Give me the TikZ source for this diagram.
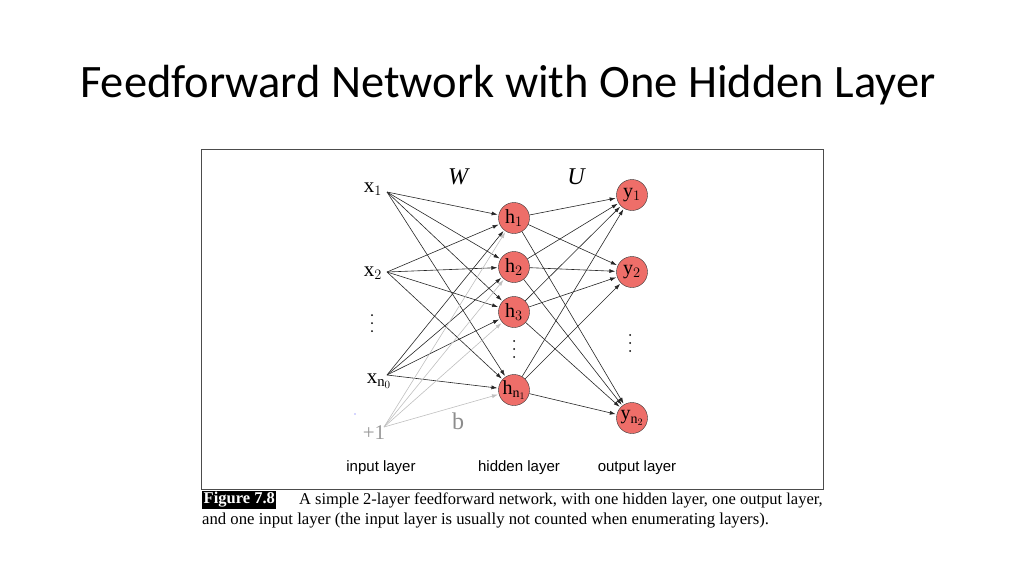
\documentclass[tikz,border=0pt]{standalone}
\usepackage{fontspec}
\setmainfont{Liberation Serif}
\newfontfamily\titlefont{Carlito}
\newfontfamily\labfont{Liberation Sans}
\begin{document}
\begin{tikzpicture}[x=1pt,y=-1pt,
  neuron/.style={circle,draw=black!80,fill={rgb,255:red,238;green,110;blue,105},minimum size=31pt,inner sep=0pt,font=\fontsize{20}{20}\selectfont},
  lbl/.style={font=\fontsize{21}{21}\selectfont,inner sep=1pt},
  dots/.style={circle,fill=black,inner sep=0pt,minimum size=2pt},
  wire/.style={-{Latex[length=6pt,width=4pt]},black!85,line width=0.6pt,shorten >=1pt},
  bwire/.style={-{Latex[length=6pt,width=4pt]},black!25,line width=0.6pt,shorten >=1pt},
  layer/.style={font=\labfont\fontsize{15}{15}\selectfont}]
\usetikzlibrary{arrows.meta}
\useasboundingbox (0,0) rectangle (1024,576);
\node[font=\titlefont\fontsize{46.5}{46.5}\selectfont,anchor=west,inner sep=0pt] (title) at (80,85) {Feedforward Network with One Hidden Layer};
\node[draw=black!70,line width=0.7pt,minimum width=622pt,minimum height=340pt,anchor=north west,inner sep=0pt] (frame) at (201,149) {};
% inputs
\node[lbl] (x1) at (373,189) {x$_1$};
\node[lbl] (x2) at (373,273) {x$_2$};
\foreach \i/\yy in {1/315,2/323,3/331} \node[dots] (xd\i) at (372,\yy) {};
\node[lbl] (xn) at (379,381) {x$_{\mathrm{n}_0}$};
\node[lbl,text=black!40] (one) at (374,433) {+1};
\node[circle,fill=blue!70,inner sep=0.5pt] (dot) at (355,414) {};
\coordinate (s1) at (387,192);
\coordinate (s2) at (387,272);
\coordinate (sn) at (387,375);
\coordinate (sb) at (384,427);
% hidden
\node[neuron] (h1) at (514,218) {h$_1$};
\node[neuron] (h2) at (514,267) {h$_2$};
\node[neuron] (h3) at (514,312) {h$_3$};
\foreach \i/\yy in {1/341,2/349,3/357} \node[dots] (hd\i) at (514,\yy) {};
\node[neuron] (hn) at (514,390) {h$_{\mathrm{n}_1}$};
% outputs
\node[neuron] (y1) at (632,195) {y$_1$};
\node[neuron] (y2) at (632,272) {y$_2$};
\foreach \i/\yy in {1/335,2/343,3/351} \node[dots] (yd\i) at (630,\yy) {};
\node[neuron] (yn) at (632,418) {y$_{\mathrm{n}_2}$};
% labels
\node[lbl,font=\itshape\fontsize{24}{24}\selectfont] (W) at (458,177) {W};
\node[lbl,font=\itshape\fontsize{24}{24}\selectfont] (U) at (576,177) {U};
\node[lbl,text=black!45,font=\fontsize{24}{24}\selectfont] (b) at (458,421) {b};
\foreach \s in {s1,s2,sn} \foreach \h in {h1,h2,h3,hn} \draw[wire] (\s) -- (\h);
\foreach \h in {h1,h2,h3,hn} \draw[bwire] (sb) -- (\h);
\foreach \h in {h1,h2,h3,hn} \foreach \y in {y1,y2,yn} \draw[wire] (\h) -- (\y);
\node[layer] (il) at (381,468) {input layer};
\node[layer] (hl) at (519,468) {hidden layer};
\node[layer] (ol) at (637,468) {output layer};
% caption
\node[fill=black,text=white,font=\bfseries\fontsize{16.5}{16.5}\selectfont,inner sep=1.5pt,anchor=west] (fig) at (202,500) {Figure 7.8};
\node[anchor=east,font=\fontsize{16.5}{16.5}\selectfont,inner sep=0pt] (cap1) at (823,500) {A simple 2-layer feedforward network, with one hidden layer, one output layer,};
\node[anchor=west,font=\fontsize{16.7}{16.7}\selectfont,inner sep=0pt] (cap2) at (202,520) {and one input layer (the input layer is usually not counted when enumerating layers).};
\end{tikzpicture}
\end{document}
